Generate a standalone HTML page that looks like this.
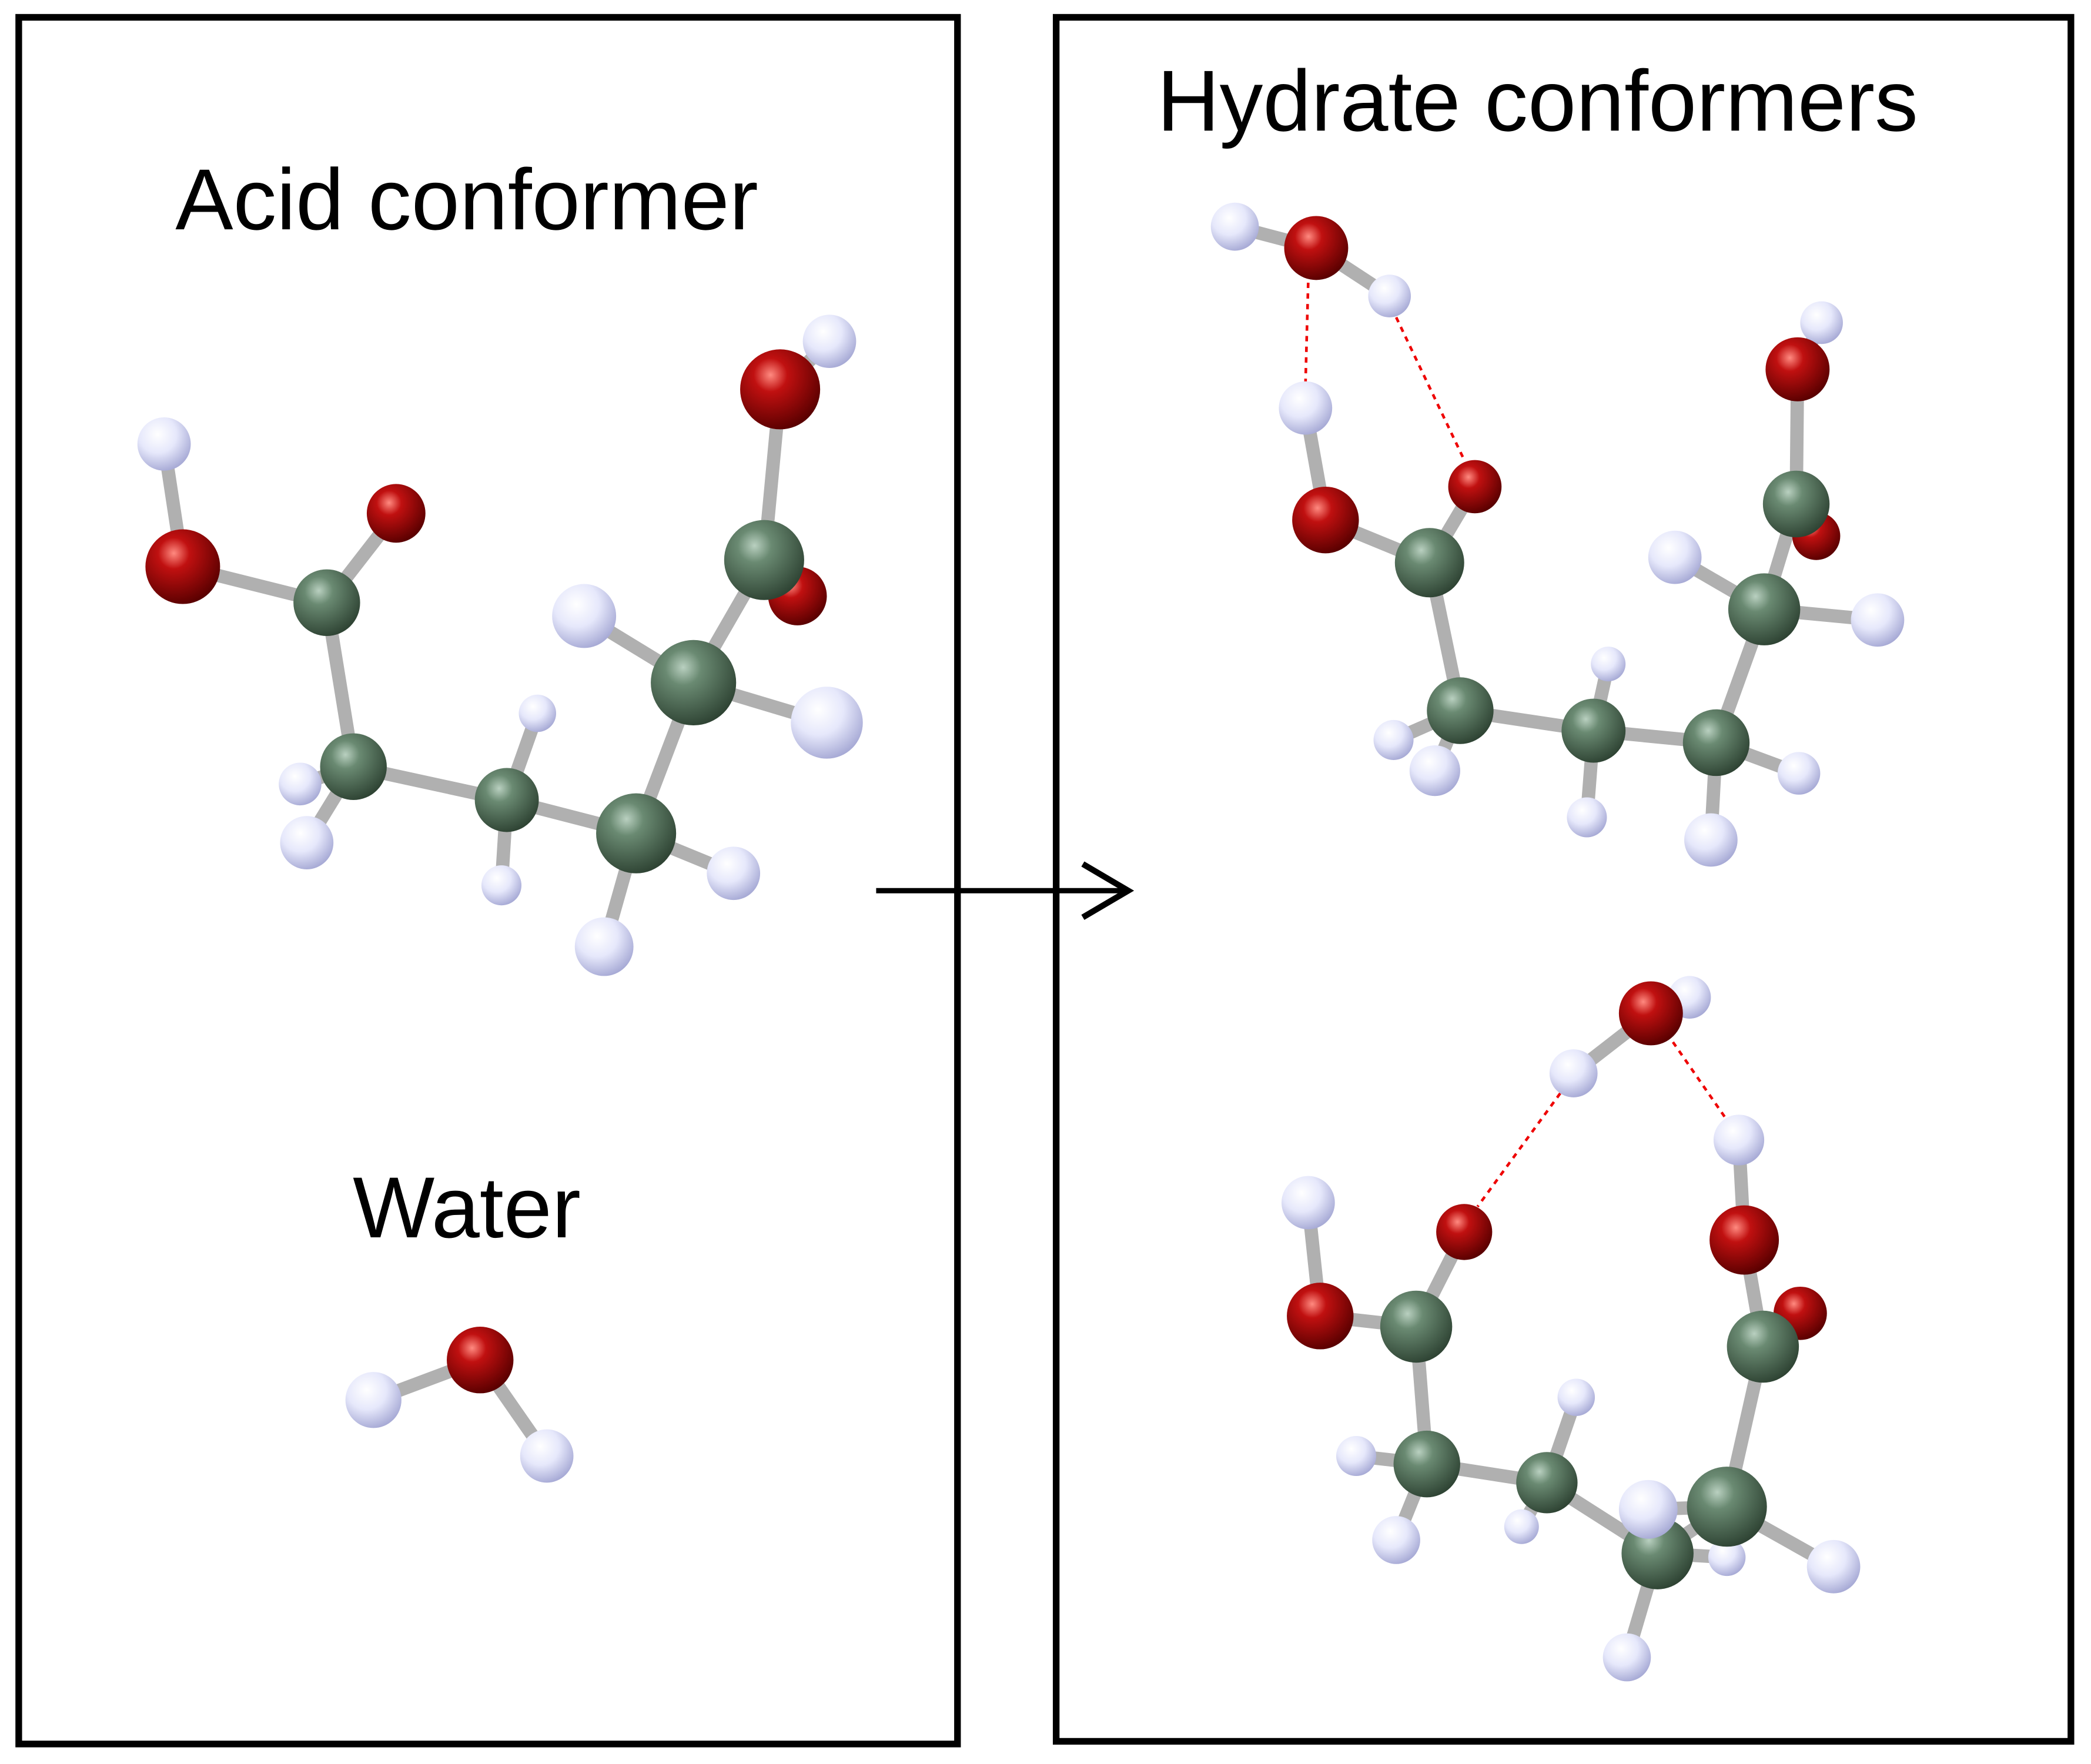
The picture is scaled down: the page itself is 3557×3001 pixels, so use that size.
<!DOCTYPE html>
<html><head><meta charset="utf-8"><style>
html,body{margin:0;padding:0;background:#fff;}
svg{display:block;}
text{font-family:"Liberation Sans",sans-serif;fill:#000;}
</style></head><body>
<svg width="3557" height="3001" viewBox="0 0 1568 1323" xmlns="http://www.w3.org/2000/svg">
<defs>
<radialGradient id="gO" cx="0.38" cy="0.32" r="0.7"><stop offset="0" stop-color="#ff8a80"/><stop offset="0.3" stop-color="#c01010"/><stop offset="1" stop-color="#5a0000"/></radialGradient>
<radialGradient id="gC" cx="0.38" cy="0.32" r="0.7"><stop offset="0" stop-color="#b9d0c0"/><stop offset="0.3" stop-color="#6a8a72"/><stop offset="1" stop-color="#2f4434"/></radialGradient>
<radialGradient id="gH" cx="0.38" cy="0.32" r="0.7"><stop offset="0" stop-color="#ffffff"/><stop offset="0.5" stop-color="#e6e8fb"/><stop offset="1" stop-color="#a8abd6"/></radialGradient>
</defs>
<rect x="0" y="0" width="1568" height="1323" fill="#fff"/>
<rect x="14" y="13" width="704" height="1295" fill="none" stroke="#000" stroke-width="5"/>
<rect x="792" y="13" width="761" height="1293" fill="none" stroke="#000" stroke-width="5"/>
<line x1="657" y1="668" x2="846" y2="668" stroke="#000" stroke-width="4"/>
<polyline points="812,648 846,668 812,688" fill="none" stroke="#000" stroke-width="4.5"/>
<text x="350" y="172" font-size="65" text-anchor="middle">Acid conformer</text>
<text x="1153" y="98" font-size="65" text-anchor="middle">Hydrate conformers</text>
<text x="350" y="928" font-size="65" text-anchor="middle">Water</text>

<g stroke="#b0b0b0" stroke-width="10" stroke-linecap="round">
<line x1="123" y1="333" x2="137" y2="425"/><line x1="137" y1="425" x2="245" y2="452"/><line x1="245" y1="452" x2="297" y2="385"/>
<line x1="245" y1="452" x2="265" y2="575"/><line x1="265" y1="575" x2="225" y2="588"/><line x1="265" y1="575" x2="230" y2="632"/>
<line x1="265" y1="575" x2="380" y2="600"/><line x1="380" y1="600" x2="403" y2="535"/><line x1="380" y1="600" x2="376" y2="664"/>
<line x1="380" y1="600" x2="477" y2="625"/><line x1="477" y1="625" x2="550" y2="655"/><line x1="477" y1="625" x2="453" y2="710"/>
<line x1="477" y1="625" x2="520" y2="512"/><line x1="520" y1="512" x2="438" y2="462"/><line x1="520" y1="512" x2="620" y2="542"/>
<line x1="520" y1="512" x2="573" y2="420"/><line x1="573" y1="420" x2="598" y2="447"/><line x1="573" y1="420" x2="585" y2="292"/><line x1="585" y1="292" x2="622" y2="256"/>
<line x1="360" y1="1020" x2="280" y2="1050"/><line x1="360" y1="1020" x2="410" y2="1092"/>
<line x1="926" y1="170" x2="987" y2="186"/><line x1="987" y1="186" x2="1042" y2="222"/>
<line x1="979" y1="306" x2="994" y2="390"/><line x1="994" y1="390" x2="1072" y2="422"/><line x1="1072" y1="422" x2="1106" y2="365"/>
<line x1="1072" y1="422" x2="1095" y2="533"/><line x1="1095" y1="533" x2="1045" y2="555"/><line x1="1095" y1="533" x2="1076" y2="578"/>
<line x1="1095" y1="533" x2="1195" y2="548"/><line x1="1195" y1="548" x2="1206" y2="498"/><line x1="1195" y1="548" x2="1190" y2="613"/>
<line x1="1195" y1="548" x2="1287" y2="557"/><line x1="1287" y1="557" x2="1349" y2="580"/><line x1="1287" y1="557" x2="1283" y2="630"/>
<line x1="1287" y1="557" x2="1323" y2="457"/><line x1="1323" y1="457" x2="1256" y2="418"/><line x1="1323" y1="457" x2="1408" y2="465"/>
<line x1="1323" y1="457" x2="1347" y2="378"/><line x1="1347" y1="378" x2="1362" y2="402"/><line x1="1347" y1="378" x2="1348" y2="277"/><line x1="1348" y1="277" x2="1366" y2="242"/>
<line x1="1238" y1="760" x2="1267" y2="748"/><line x1="1238" y1="760" x2="1180" y2="805"/>
<line x1="981" y1="902" x2="990" y2="987"/><line x1="990" y1="987" x2="1062" y2="995"/><line x1="1062" y1="995" x2="1098" y2="924"/>
<line x1="1062" y1="995" x2="1070" y2="1098"/><line x1="1070" y1="1098" x2="1017" y2="1092"/><line x1="1070" y1="1098" x2="1047" y2="1155"/>
<line x1="1070" y1="1098" x2="1160" y2="1112"/><line x1="1160" y1="1112" x2="1182" y2="1048"/><line x1="1160" y1="1112" x2="1141" y2="1145"/>
<line x1="1160" y1="1112" x2="1243" y2="1165"/><line x1="1243" y1="1165" x2="1220" y2="1243"/><line x1="1243" y1="1165" x2="1295" y2="1168"/>
<line x1="1243" y1="1165" x2="1295" y2="1130"/><line x1="1295" y1="1130" x2="1236" y2="1132"/><line x1="1295" y1="1130" x2="1375" y2="1175"/>
<line x1="1295" y1="1130" x2="1322" y2="1010"/><line x1="1322" y1="1010" x2="1350" y2="985"/><line x1="1322" y1="1010" x2="1308" y2="930"/><line x1="1308" y1="930" x2="1304" y2="855"/>
</g>
<g stroke="#e00" stroke-width="2" stroke-dasharray="4,4" fill="none">
<line x1="981" y1="212" x2="979" y2="287"/><line x1="1047" y1="238" x2="1098" y2="345"/>
<line x1="1170" y1="820" x2="1108" y2="905"/><line x1="1250" y1="775" x2="1295" y2="840"/>
</g>

<g>
<circle cx="598" cy="447" r="22" fill="url(#gO)"/>
<circle cx="123" cy="333" r="20" fill="url(#gH)"/>
<circle cx="297" cy="385" r="22" fill="url(#gO)"/>
<circle cx="137" cy="425" r="28" fill="url(#gO)"/>
<circle cx="245" cy="452" r="25" fill="url(#gC)"/>
<circle cx="225" cy="588" r="16" fill="url(#gH)"/>
<circle cx="265" cy="575" r="25" fill="url(#gC)"/>
<circle cx="230" cy="632" r="20" fill="url(#gH)"/>
<circle cx="403" cy="535" r="14" fill="url(#gH)"/>
<circle cx="380" cy="600" r="24" fill="url(#gC)"/>
<circle cx="376" cy="664" r="15" fill="url(#gH)"/>
<circle cx="550" cy="655" r="20" fill="url(#gH)"/>
<circle cx="477" cy="625" r="30" fill="url(#gC)"/>
<circle cx="453" cy="710" r="22" fill="url(#gH)"/>
<circle cx="438" cy="462" r="24" fill="url(#gH)"/>
<circle cx="622" cy="256" r="20" fill="url(#gH)"/>
<circle cx="585" cy="292" r="30" fill="url(#gO)"/>
<circle cx="573" cy="420" r="30" fill="url(#gC)"/>
<circle cx="520" cy="512" r="32" fill="url(#gC)"/>
<circle cx="620" cy="542" r="27" fill="url(#gH)"/>
<circle cx="360" cy="1020" r="25" fill="url(#gO)"/>
<circle cx="280" cy="1050" r="21" fill="url(#gH)"/>
<circle cx="410" cy="1092" r="20" fill="url(#gH)"/>
<circle cx="926" cy="170" r="18" fill="url(#gH)"/>
<circle cx="1042" cy="222" r="16" fill="url(#gH)"/>
<circle cx="987" cy="186" r="24" fill="url(#gO)"/>
<circle cx="979" cy="306" r="20" fill="url(#gH)"/>
<circle cx="994" cy="390" r="25" fill="url(#gO)"/>
<circle cx="1106" cy="365" r="20" fill="url(#gO)"/>
<circle cx="1072" cy="422" r="26" fill="url(#gC)"/>
<circle cx="1045" cy="555" r="15" fill="url(#gH)"/>
<circle cx="1095" cy="533" r="25" fill="url(#gC)"/>
<circle cx="1076" cy="578" r="19" fill="url(#gH)"/>
<circle cx="1206" cy="498" r="13" fill="url(#gH)"/>
<circle cx="1195" cy="548" r="24" fill="url(#gC)"/>
<circle cx="1190" cy="613" r="15" fill="url(#gH)"/>
<circle cx="1349" cy="580" r="16" fill="url(#gH)"/>
<circle cx="1287" cy="557" r="25" fill="url(#gC)"/>
<circle cx="1283" cy="630" r="20" fill="url(#gH)"/>
<circle cx="1362" cy="402" r="18" fill="url(#gO)"/>
<circle cx="1366" cy="242" r="16" fill="url(#gH)"/>
<circle cx="1348" cy="277" r="24" fill="url(#gO)"/>
<circle cx="1347" cy="378" r="25" fill="url(#gC)"/>
<circle cx="1256" cy="418" r="20" fill="url(#gH)"/>
<circle cx="1323" cy="457" r="27" fill="url(#gC)"/>
<circle cx="1408" cy="465" r="20" fill="url(#gH)"/>
<circle cx="1267" cy="748" r="16" fill="url(#gH)"/>
<circle cx="1238" cy="760" r="24" fill="url(#gO)"/>
<circle cx="1180" cy="805" r="18" fill="url(#gH)"/>
<circle cx="1304" cy="855" r="19" fill="url(#gH)"/>
<circle cx="1098" cy="924" r="21" fill="url(#gO)"/>
<circle cx="981" cy="902" r="20" fill="url(#gH)"/>
<circle cx="990" cy="987" r="25" fill="url(#gO)"/>
<circle cx="1062" cy="995" r="27" fill="url(#gC)"/>
<circle cx="1350" cy="985" r="20" fill="url(#gO)"/>
<circle cx="1308" cy="930" r="26" fill="url(#gO)"/>
<circle cx="1322" cy="1010" r="27" fill="url(#gC)"/>
<circle cx="1017" cy="1092" r="15" fill="url(#gH)"/>
<circle cx="1070" cy="1098" r="25" fill="url(#gC)"/>
<circle cx="1047" cy="1155" r="18" fill="url(#gH)"/>
<circle cx="1182" cy="1048" r="14" fill="url(#gH)"/>
<circle cx="1141" cy="1145" r="13" fill="url(#gH)"/>
<circle cx="1160" cy="1112" r="23" fill="url(#gC)"/>
<circle cx="1295" cy="1168" r="14" fill="url(#gH)"/>
<circle cx="1243" cy="1165" r="27" fill="url(#gC)"/>
<circle cx="1220" cy="1243" r="18" fill="url(#gH)"/>
<circle cx="1295" cy="1130" r="30" fill="url(#gC)"/>
<circle cx="1236" cy="1132" r="22" fill="url(#gH)"/>
<circle cx="1375" cy="1175" r="20" fill="url(#gH)"/>
</g>
</svg>
</body></html>
